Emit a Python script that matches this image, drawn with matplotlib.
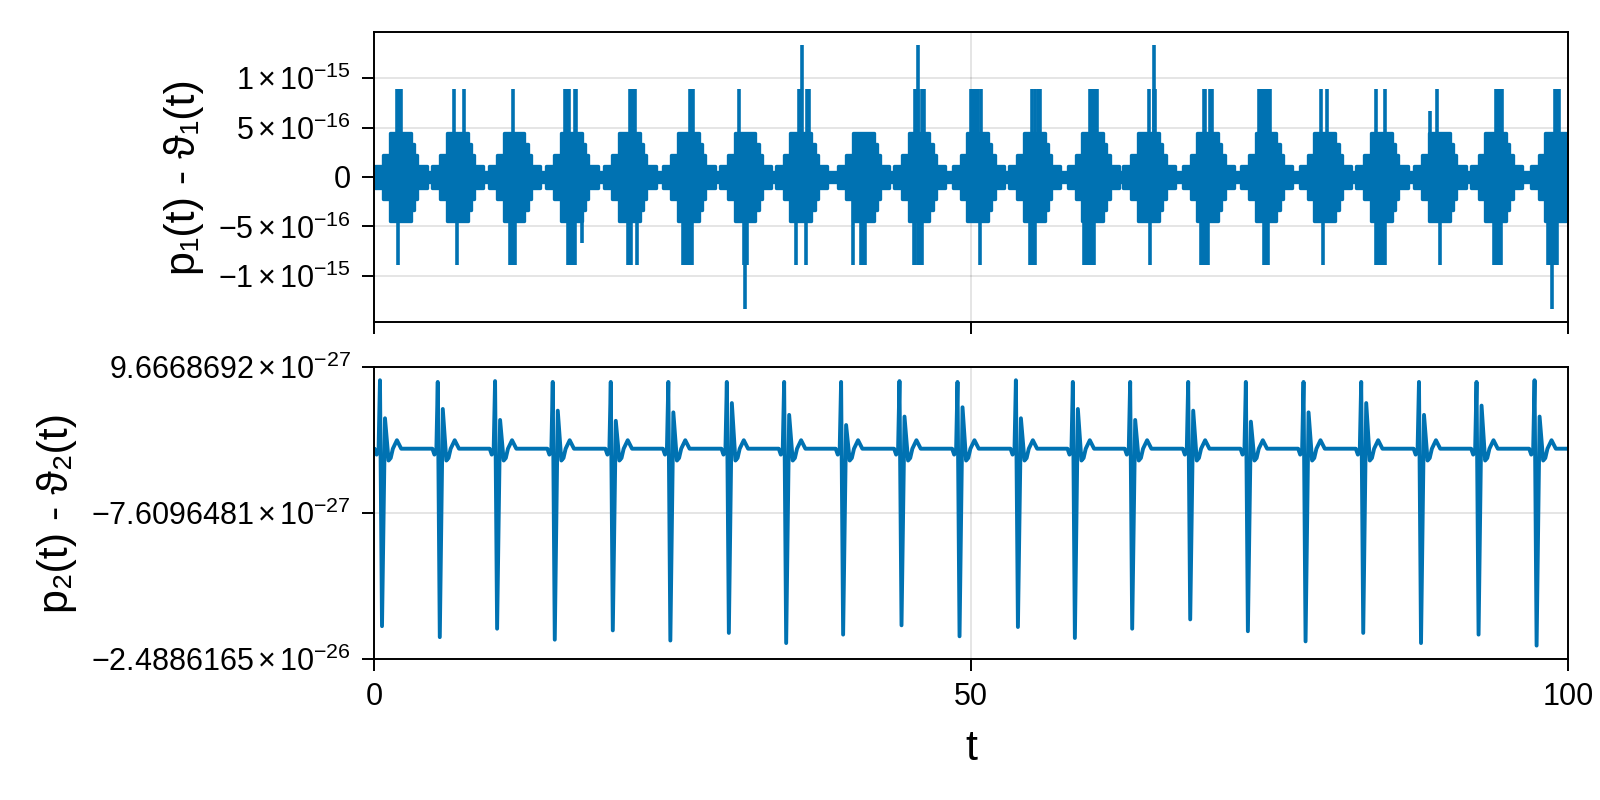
import matplotlib
matplotlib.use("Agg")
import matplotlib.pyplot as plt
import numpy as np

plt.rcParams['font.family'] = ['Liberation Sans', 'DejaVu Sans']
plt.rcParams['mathtext.fontset'] = 'custom'
plt.rcParams['mathtext.rm'] = 'Liberation Sans'
plt.rcParams['mathtext.it'] = 'Liberation Sans:italic'
plt.rcParams['mathtext.bf'] = 'Liberation Sans:bold'

BLUE = "#0072b2"
EPS = 2.220446049250313e-16

# --- top panel: p1 - theta1, round-off bursts (levels in units of EPS) ---
burst_t = [2.20, 6.97, 11.73, 16.53, 21.39, 26.33, 31.08, 35.75, 40.97, 45.64, 50.56,
           55.29, 60.19, 64.87, 69.82, 74.71, 79.63, 84.38, 89.23, 93.95, 98.96]
# envelope steps of one burst, offset from its centre
env_off = [-2.1, -1.43, -0.87, 0.87, 1.15, 1.42, 2.2]
env_hi = [0.5, 1.0, 2.0, 1.5, 1.0, 0.5, 0.25]
env_lo = [-0.5, -1.0, -2.0, -1.5, -1.0, -0.5, -0.25]
quiet = 0.25

spike_t = [1.9, 2.0, 2.1, 2.2, 2.28, 1.98,
           6.73, 7.51, 6.95,
           11.67, 11.43, 11.55, 11.7, 11.83,
           16.0, 16.15, 16.35, 16.8, 16.95, 16.25, 16.4, 16.55, 16.7, 16.85, 17.4,
           21.45, 21.6, 21.75, 21.9, 21.25, 21.4, 21.5, 22.0,
           26.45, 26.6, 26.7, 25.9, 26.05, 26.2, 26.35, 26.5, 26.62,
           30.6, 31.08, 30.95, 31.2,
           35.88, 35.6, 35.75, 36.3, 36.45, 35.35, 36.19,
           40.15, 40.8, 40.95, 41.1,
           45.55, 45.3, 45.45, 45.6, 45.9, 46.05, 45.2, 45.35, 45.6, 45.75, 45.88,
           50.0, 50.15, 50.3, 50.45, 50.6, 50.8, 50.76,
           55.15, 55.35, 55.6, 55.8, 54.9, 55.05, 55.2, 55.4,
           59.95, 60.1, 60.25, 60.4, 60.55, 59.5, 59.65, 59.8, 59.95, 60.1, 60.3,
           65.34, 64.87, 65.3, 65.45, 65.01,
           69.5, 69.62, 70.05, 70.2, 69.25, 69.4, 69.55, 69.7, 69.85,
           74.1, 74.25, 74.4, 74.55, 74.7, 74.85, 75.0, 74.55, 74.7, 74.85,
           79.35, 79.85, 79.5,
           83.9, 84.7, 83.9, 84.05, 84.2, 84.35, 84.5, 84.65,
           89.0, 88.41, 89.3,
           94.0, 94.15, 94.3, 94.45, 93.8, 93.95, 94.1, 94.25, 94.4,
           98.95, 99.1, 99.25, 98.35, 98.5, 98.65, 98.8, 98.95, 99.1, 98.66]
spike_lv = [4, 4, 4, 4, 4, -4,
            4, 4, -4,
            4, -4, -4, -4, -4,
            4, 4, 4, 4, 4, -4, -4, -4, -4, -4, -3,
            4, 4, 4, 4, -4, -4, -4, -4,
            4, 4, 4, -4, -4, -4, -4, -4, -4,
            4, -6, -4, -4,
            6, 4, 4, 4, 4, -4, -4,
            -4, -4, -4, -4,
            6, 4, 4, 4, 4, 4, -4, -4, -4, -4, -4,
            4, 4, 4, 4, 4, 4, -4,
            4, 4, 4, 4, -4, -4, -4, -4,
            4, 4, 4, 4, 4, -4, -4, -4, -4, -4, -4,
            6, 4, 4, 4, -4,
            4, 4, 4, 4, -4, -4, -4, -4, -4,
            4, 4, 4, 4, 4, 4, 4, -4, -4, -4,
            4, 4, -4,
            4, 4, -4, -4, -4, -4, -4, -4,
            4, 3, -4,
            4, 4, 4, 4, -4, -4, -4, -4, -4,
            4, 4, 4, -4, -4, -4, -4, -4, -4, -6]

# --- bottom panel: p2 - theta2, one spike event per period (values x1e-27) ---
event_t = [0.50, 5.34, 10.14, 14.97, 19.83, 24.65, 29.55, 34.35, 39.12, 44.01, 48.87,
           53.76, 58.53, 63.33, 68.19, 73.02, 77.85, 82.68, 87.52, 92.34, 97.20]
event_hi = [8.1, 7.9, 8.0, 7.9, 7.9, 7.9, 7.9, 7.9, 7.9, 8.0, 7.9,
            8.1, 7.9, 7.9, 7.9, 7.9, 7.9, 7.9, 7.9, 7.9, 8.1]
event_lo = [-21.0, -22.3, -21.3, -22.6, -21.5, -22.7, -21.8, -23.0, -22.0, -20.9, -22.2,
            -21.1, -22.4, -21.3, -20.2, -21.6, -22.8, -21.8, -23.0, -22.0, -23.3]
event_hi2 = [3.6, 4.7, 3.4, 4.5, 3.3, 4.3, 5.4, 4.0, 2.8, 3.8, 4.9,
             3.6, 4.7, 3.4, 4.5, 3.2, 4.3, 5.4, 4.0, 5.1, 3.8]
# small wiggles around every event: offset from the main spike, value x1e-27
wig_off = [-0.45, -0.28, -0.12, 0.72, 0.9, 1.08, 1.25, 1.42, 1.6, 1.78]
wig_val = [0.0, -0.7, -0.3, -1.4, -1.1, 0.0, 0.5, 1.0, 0.5, 0.0]

y2_min, y2_max = -2.4886165e-26, 9.6668692e-27
y2_labels = [r"$-2.4886165\,{\times}\,10^{-26}$", r"$-7.6096481\,{\times}\,10^{-27}$",
             r"$9.6668692\,{\times}\,10^{-27}$"]
y1_ticks = [-1e-15, -5e-16, 0, 5e-16, 1e-15]
y1_labels = [r"$-1\,{\times}\,10^{-15}$", r"$-5\,{\times}\,10^{-16}$", "0",
             r"$5\,{\times}\,10^{-16}$", r"$1\,{\times}\,10^{-15}$"]

# build top envelope (step) from the bursts
env_t, hi, lo = [0.0], [quiet], [-quiet]
for c in burst_t:
    for off, h, l in zip(env_off, env_hi, env_lo):
        env_t.append(c + off)
        hi.append(h)
        lo.append(l)
env_t.append(100.0)
hi.append(hi[-1])
lo.append(lo[-1])
env_t = np.array(env_t)
hi = np.array(hi) * EPS
lo = np.array(lo) * EPS

# build bottom series
t2, v2 = [0.0], [0.0]
for te, a, b, c in zip(event_t, event_hi, event_lo, event_hi2):
    pts = list(zip(wig_off[:3], wig_val[:3])) + [(0.0, a), (0.17, b), (0.42, c)] \
        + list(zip(wig_off[3:], wig_val[3:]))
    for off, val in pts:
        t2.append(te + off)
        v2.append(val)
t2.append(100.0)
v2.append(0.0)
t2 = np.array(t2)
v2 = np.array(v2) * 1e-27

fig = plt.figure(figsize=(16, 8), dpi=100)
ax1 = fig.add_axes([0.23375, 0.5975, 0.74625, 0.3625])
ax2 = fig.add_axes([0.23375, 0.17625, 0.74625, 0.365])

ax1.fill_between(env_t, lo, hi, step='post', color=BLUE, lw=2.4)
ax1.vlines(spike_t, 0, np.array(spike_lv) * EPS, color=BLUE, lw=2.6)
ax1.set_ylim(-1.4655e-15, 1.4655e-15)
ax1.set_yticks(y1_ticks)
ax1.set_yticklabels(y1_labels)
ax1.set_ylabel("p₁(t) - ϑ₁(t)", fontsize=31, labelpad=10)

ax2.plot(t2, v2, color=BLUE, lw=2.8)
ax2.set_ylim(y2_min, y2_max)
ax2.set_yticks([y2_min, (y2_min + y2_max) / 2, y2_max])
ax2.set_yticklabels(y2_labels)
ax2.set_ylabel("p₂(t) - ϑ₂(t)", fontsize=31, labelpad=10)
ax2.set_xlabel("t", fontsize=31, labelpad=12)

for ax in (ax1, ax2):
    ax.set_xlim(0, 100)
    ax.set_xticks([0, 50, 100])
    ax.set_axisbelow(True)
    ax.grid(True, color="black", alpha=0.12, lw=1.2)
    ax.tick_params(direction='out', length=8.6, width=1.4, labelsize=22, pad=8)
    for s in ax.spines.values():
        s.set_linewidth(1.4)
ax1.tick_params(axis='x', labelbottom=False)

fig.savefig("out.png", dpi=100)
